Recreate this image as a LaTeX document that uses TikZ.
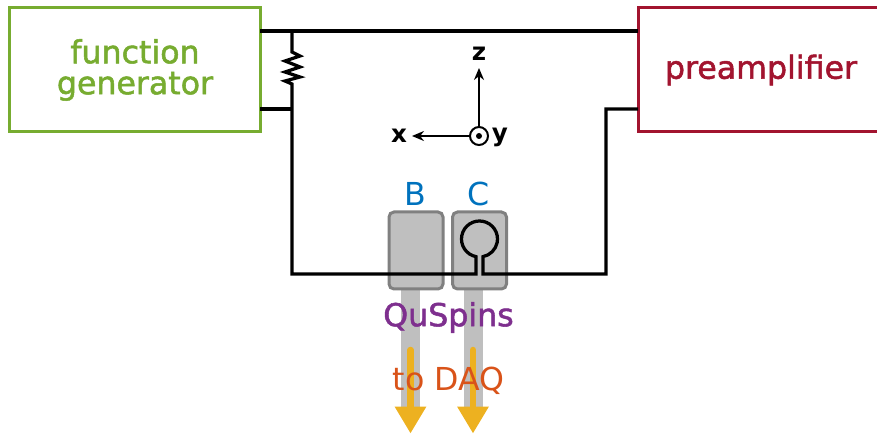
\documentclass[tikz,border=0pt]{standalone}
\usepackage{fontspec}
\setmainfont{DejaVu Sans}
\newfontfamily\heavyfont[FakeBold=1.6]{DejaVu Sans}
\usetikzlibrary{arrows.meta}
\definecolor{fggreen}{HTML}{77AC30}
\definecolor{ampred}{HTML}{A2142F}
\definecolor{sensorblue}{HTML}{0072BD}
\definecolor{daqorange}{HTML}{D95319}
\definecolor{arrowyellow}{HTML}{EDB120}
\definecolor{spinpurple}{HTML}{7E2F8E}
\begin{document}
\begin{tikzpicture}[
    instrument/.style={rectangle, draw, line width=0.06cm, fill=white, minimum height=2.48cm, text width=4.7cm, align=center, inner sep=0pt, font=\heavyfont\fontsize{18}{17.6}\selectfont},
    sensor/.style={rectangle, draw=gray, line width=0.06cm, fill=gray!50, rounded corners=0.1cm, minimum width=1.08cm, minimum height=1.54cm},
    wire/.style={line width=0.065cm, line join=miter},
    axis/.style={line width=0.04cm, -{Stealth[length=0.24cm,width=0.2cm]}},
    axislabel/.style={font=\fontsize{14}{14}\selectfont\bfseries, inner sep=0pt},
    bigtext/.style={font=\fontsize{18}{18}\selectfont, inner sep=0pt},
    stem/.style={line width=0.38cm, gray!50},
    daqarrow/.style={line width=0.13cm, arrowyellow, -{Triangle[length=0.54cm,width=0.6cm]}}
]
    \clip (0,0) rectangle (17.54,8.74);
    \node[instrument, draw=fggreen, text=fggreen, minimum width=5cm] (generator) at (2.70,7.34) {function\\generator};
    \node[instrument, draw=ampred, text=ampred, minimum width=4.92cm] (preamp) at (15.22,7.34) {preamplifier};

    \coordinate (gentop) at (5.2,8.12);
    \coordinate (genbot) at (5.2,6.56);
    \coordinate (amptop) at (12.76,8.12);
    \coordinate (ampbot) at (12.76,6.56);
    \coordinate (tee) at (5.84,8.12);
    \coordinate (junction) at (5.84,6.56);

    % sensors
    \draw[stem] (8.21,2.96) -- (8.21,0.6);
    \draw[stem] (9.46,2.96) -- (9.46,0.6);
    \node[sensor] (sensorB) at (8.32,3.73) {};
    \node[sensor] (sensorC) at (9.59,3.73) {};
    \node[bigtext, text=sensorblue] (labelB) at (8.30,4.86) {B};
    \node[bigtext, text=sensorblue] (labelC) at (9.58,4.86) {C};

    % wiring
    \draw[wire] (gentop) -- (amptop);
    \draw[wire] (genbot) -- (junction);
    \draw[wire] (tee) -- (5.84,7.70) -- (6.0,7.62) -- (5.7,7.52) -- (6.0,7.40) -- (5.7,7.30) -- (6.0,7.20) -- (5.7,7.12) -- (5.84,7.06) -- (junction) -- (5.84,3.26) -- (9.52,3.26) -- (9.52,3.607) arc[start angle=258.8, end angle=-78.8, radius=0.36] -- (9.66,3.26) -- (12.12,3.26) -- (12.12,6.56) -- (ampbot);

    % axes
    \node[circle, draw, line width=0.04cm, minimum size=0.36cm, inner sep=0pt] (origin) at (9.58,6.02) {};
    \fill (origin.center) circle (0.06);
    \coordinate (xend) at (8.24,6.02);
    \coordinate (zend) at (9.58,7.38);
    \draw[axis] (origin) -- (xend);
    \draw[axis] (origin) -- (zend);
    \node[axislabel] (xlabel) at (7.98,6.02) {x};
    \node[axislabel] (ylabel) at (10.0,5.99) {y};
    \node[axislabel] (zlabel) at (9.58,7.66) {z};

    % outputs
    \draw[daqarrow, line cap=round] (8.21,1.74) -- (8.21,0.07);
    \draw[daqarrow, line cap=round] (9.46,1.74) -- (9.46,0.07);
    \node[bigtext, font=\heavyfont\fontsize{18}{18}\selectfont, text=spinpurple] (quspins) at (8.97,2.39) {QuSpins};
    \node[bigtext, text=daqorange] (daq) at (8.97,1.12) {to DAQ};
\end{tikzpicture}
\end{document}
